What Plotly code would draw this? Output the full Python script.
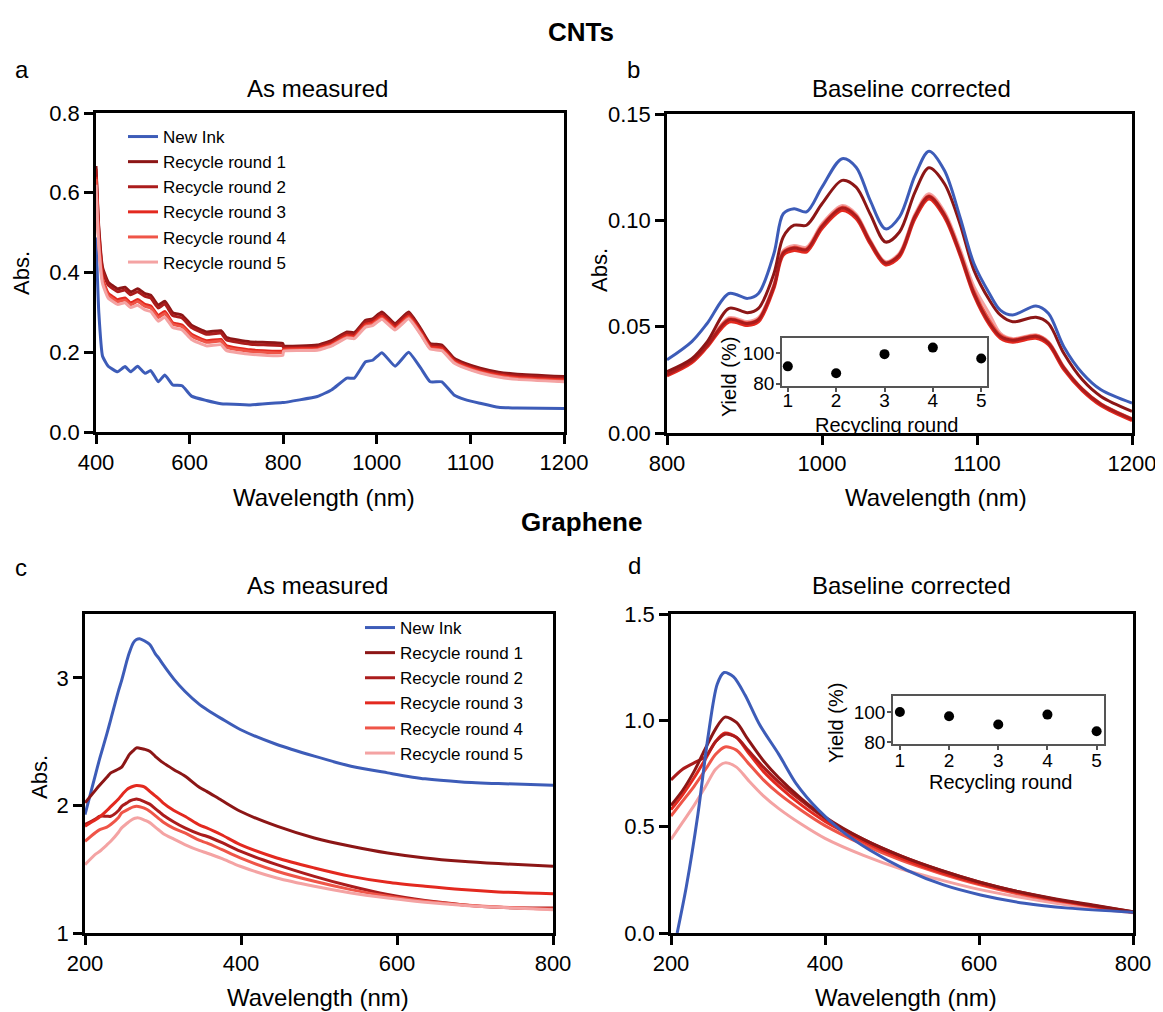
import plotly.graph_objects as go

# ---------------- data ----------------
series_names = ["New Ink", "Recycle round 1", "Recycle round 2",
                "Recycle round 3", "Recycle round 4", "Recycle round 5"]
series_colors = ["#3d5cb8", "#8c1616", "#ab1c1c", "#e3291f", "#ef5548", "#f4a3a3"]

# Panel a: CNTs as measured (wavelength, nm)
wl_a = [400, 406, 414, 426, 446, 462, 474, 489, 505, 517, 533, 547, 564, 584, 604, 636, 667,
        679, 730, 799, 801, 873, 904, 936, 952, 976, 991, 1011, 1039, 1068, 1094, 1114, 1139,
        1165, 1189, 1221, 1260, 1300, 1400]
a_new = [0.488, 0.300, 0.190, 0.165, 0.151, 0.164, 0.151, 0.165, 0.147, 0.154, 0.126, 0.143,
         0.118, 0.116, 0.090, 0.079, 0.071, 0.070, 0.068, 0.074, 0.074, 0.089, 0.106, 0.135,
         0.135, 0.176, 0.180, 0.199, 0.165, 0.200, 0.160, 0.126, 0.126, 0.093, 0.081, 0.072,
         0.062, 0.060, 0.059]
a_r1 = [0.667, 0.513, 0.413, 0.376, 0.359, 0.363, 0.351, 0.359, 0.347, 0.343, 0.318, 0.328,
        0.299, 0.293, 0.268, 0.251, 0.254, 0.237, 0.226, 0.222, 0.216, 0.218, 0.230, 0.251,
        0.249, 0.280, 0.284, 0.301, 0.272, 0.301, 0.259, 0.222, 0.218, 0.185, 0.172, 0.160,
        0.150, 0.145, 0.139]
a_r2 = [0.660, 0.505, 0.406, 0.369, 0.352, 0.356, 0.344, 0.352, 0.340, 0.336, 0.311, 0.321,
        0.292, 0.286, 0.262, 0.245, 0.248, 0.231, 0.220, 0.216, 0.212, 0.214, 0.226, 0.247,
        0.245, 0.276, 0.280, 0.296, 0.268, 0.297, 0.255, 0.218, 0.214, 0.181, 0.168, 0.156,
        0.146, 0.141, 0.135]
a_r3 = [0.640, 0.480, 0.385, 0.348, 0.332, 0.336, 0.324, 0.332, 0.320, 0.316, 0.292, 0.302,
        0.274, 0.268, 0.245, 0.229, 0.232, 0.216, 0.206, 0.203, 0.208, 0.210, 0.221, 0.242,
        0.240, 0.270, 0.274, 0.290, 0.262, 0.291, 0.250, 0.214, 0.210, 0.178, 0.165, 0.153,
        0.143, 0.137, 0.131]
a_r4 = [0.635, 0.475, 0.380, 0.343, 0.327, 0.331, 0.319, 0.327, 0.315, 0.311, 0.287, 0.297,
        0.270, 0.264, 0.241, 0.225, 0.228, 0.212, 0.202, 0.199, 0.205, 0.207, 0.218, 0.238,
        0.236, 0.266, 0.270, 0.286, 0.258, 0.287, 0.246, 0.210, 0.206, 0.175, 0.162, 0.150,
        0.140, 0.134, 0.128]
a_r5 = [0.620, 0.465, 0.372, 0.336, 0.320, 0.324, 0.312, 0.318, 0.306, 0.302, 0.278, 0.288,
        0.262, 0.256, 0.232, 0.216, 0.219, 0.204, 0.195, 0.192, 0.203, 0.205, 0.216, 0.236,
        0.234, 0.263, 0.267, 0.283, 0.256, 0.284, 0.244, 0.208, 0.204, 0.173, 0.160, 0.148,
        0.138, 0.132, 0.126]
a_tickvals = [400, 600, 800, 1000, 1200, 1400]
a_ticktext = ["400", "600", "800", "1000", "1100", "1200"]

# Panel b: CNTs baseline corrected
wl_b = [900, 916, 926, 940, 952, 959, 969, 975, 982, 990, 1000, 1013, 1022, 1031, 1041, 1050,
        1060, 1069, 1079, 1089, 1098, 1108, 1115, 1123, 1138, 1146, 1156, 1168, 1180, 1200]
b_new = [0.0344, 0.0430, 0.0516, 0.0656, 0.0633, 0.0656, 0.0844, 0.1031, 0.1055, 0.1040,
         0.1156, 0.1290, 0.1250, 0.1095, 0.0960, 0.1016, 0.1210, 0.1325, 0.1234, 0.1016,
         0.0797, 0.0656, 0.0578, 0.0555, 0.0597, 0.0563, 0.0406, 0.0281, 0.0203, 0.0141]
b_r1 = [0.0289, 0.0350, 0.0430, 0.0586, 0.0566, 0.0586, 0.0750, 0.0922, 0.0977, 0.0977,
        0.1078, 0.1188, 0.1156, 0.1031, 0.0898, 0.0945, 0.1133, 0.1247, 0.1172, 0.0984,
        0.0766, 0.0625, 0.0555, 0.0523, 0.0544, 0.0516, 0.0375, 0.0250, 0.0172, 0.0102]
b_r2 = [0.0275, 0.0338, 0.0412, 0.0533, 0.0515, 0.0533, 0.0690, 0.0847, 0.0870, 0.0862,
        0.0972, 0.1058, 0.1019, 0.0900, 0.0799, 0.0838, 0.1019, 0.1112, 0.1025, 0.0846,
        0.0658, 0.0518, 0.0455, 0.0436, 0.0455, 0.0424, 0.0307, 0.0205, 0.0135, 0.0065]
b_r3 = [0.0268, 0.0330, 0.0404, 0.0522, 0.0505, 0.0522, 0.0680, 0.0836, 0.0858, 0.0851,
        0.0960, 0.1046, 0.1008, 0.0890, 0.0790, 0.0828, 0.1007, 0.1100, 0.1014, 0.0836,
        0.0648, 0.0508, 0.0446, 0.0427, 0.0445, 0.0415, 0.0298, 0.0198, 0.0128, 0.0058]
b_r4 = [0.0278, 0.0340, 0.0415, 0.0536, 0.0518, 0.0536, 0.0694, 0.0851, 0.0874, 0.0866,
        0.0976, 0.1062, 0.1022, 0.0903, 0.0801, 0.0841, 0.1022, 0.1116, 0.1030, 0.0852,
        0.0668, 0.0530, 0.0462, 0.0440, 0.0458, 0.0427, 0.0309, 0.0206, 0.0136, 0.0066]
b_r5 = [0.0282, 0.0344, 0.0420, 0.0542, 0.0524, 0.0542, 0.0700, 0.0858, 0.0882, 0.0874,
        0.0984, 0.1070, 0.1030, 0.0908, 0.0806, 0.0847, 0.1030, 0.1125, 0.1040, 0.0866,
        0.0690, 0.0560, 0.0470, 0.0444, 0.0462, 0.0430, 0.0312, 0.0208, 0.0138, 0.0068]
b_tickvals = [900, 1000, 1100, 1200]
b_ticktext = ["800", "1000", "1100", "1200"]

# Panel c: Graphene as measured
wl_c = [200, 214, 219, 228, 233, 243, 247, 254, 257, 262, 266, 270, 276, 283, 290, 295, 300,
        314, 328, 347, 356, 375, 399, 446, 494, 541, 588, 636, 683, 730, 800]
c_new = [1.928, 2.255, 2.37, 2.56, 2.673, 2.90, 2.98, 3.14, 3.20, 3.275, 3.30, 3.306, 3.29,
         3.261, 3.19, 3.15, 3.105, 2.99, 2.895, 2.79, 2.752, 2.68, 2.595, 2.477, 2.386, 2.307,
         2.255, 2.208, 2.184, 2.171, 2.158]
c_r1 = [2.020, 2.124, 2.16, 2.22, 2.255, 2.285, 2.30, 2.37, 2.40, 2.43, 2.451, 2.448, 2.440,
        2.425, 2.385, 2.359, 2.335, 2.28, 2.23, 2.14, 2.11, 2.04, 1.954, 1.837, 1.745, 1.680,
        1.627, 1.588, 1.562, 1.544, 1.523]
c_r2 = [1.850, 1.895, 1.915, 1.915, 1.915, 1.960, 1.993, 2.020, 2.033, 2.045, 2.051, 2.045,
        2.030, 2.010, 1.975, 1.950, 1.925, 1.870, 1.824, 1.775, 1.758, 1.710, 1.641, 1.536,
        1.444, 1.366, 1.301, 1.254, 1.222, 1.201, 1.196]
c_r3 = [1.837, 1.889, 1.91, 1.960, 1.990, 2.050, 2.080, 2.125, 2.137, 2.150, 2.156, 2.154,
        2.145, 2.110, 2.075, 2.050, 2.020, 1.960, 1.915, 1.845, 1.824, 1.770, 1.693, 1.588,
        1.510, 1.444, 1.397, 1.366, 1.340, 1.322, 1.308]
c_r4 = [1.719, 1.790, 1.810, 1.830, 1.850, 1.905, 1.941, 1.965, 1.975, 1.988, 1.993, 1.990,
        1.978, 1.955, 1.920, 1.895, 1.870, 1.820, 1.784, 1.725, 1.706, 1.655, 1.588, 1.484,
        1.405, 1.340, 1.288, 1.248, 1.222, 1.204, 1.188]
c_r5 = [1.536, 1.620, 1.641, 1.690, 1.719, 1.790, 1.824, 1.860, 1.875, 1.895, 1.902, 1.900,
        1.885, 1.865, 1.830, 1.805, 1.780, 1.735, 1.693, 1.645, 1.627, 1.585, 1.523, 1.431,
        1.366, 1.314, 1.275, 1.241, 1.217, 1.201, 1.183]
c_tickvals = [200, 400, 600, 800]

# Panel d: Graphene baseline corrected
wl_d = [200, 215, 230, 245, 258, 270, 285, 300, 320, 340, 370, 400, 450, 500, 550, 600, 650,
        700, 750, 800]
d_r1 = [0.600, 0.670, 0.760, 0.870, 0.960, 1.015, 0.990, 0.910, 0.810, 0.730, 0.630, 0.545,
        0.440, 0.360, 0.295, 0.240, 0.195, 0.160, 0.130, 0.100]
d_r2 = [0.720, 0.770, 0.800, 0.830, 0.900, 0.935, 0.920, 0.860, 0.780, 0.710, 0.620, 0.540,
        0.440, 0.360, 0.295, 0.240, 0.195, 0.158, 0.128, 0.100]
d_r3 = [0.580, 0.650, 0.730, 0.820, 0.900, 0.940, 0.920, 0.850, 0.760, 0.690, 0.600, 0.525,
        0.430, 0.350, 0.285, 0.232, 0.190, 0.155, 0.125, 0.098]
d_r4 = [0.550, 0.620, 0.690, 0.770, 0.840, 0.875, 0.860, 0.800, 0.720, 0.655, 0.575, 0.505,
        0.415, 0.340, 0.280, 0.228, 0.185, 0.152, 0.123, 0.097]
d_r5 = [0.440, 0.520, 0.600, 0.690, 0.770, 0.800, 0.780, 0.720, 0.645, 0.585, 0.510, 0.445,
        0.365, 0.300, 0.250, 0.205, 0.170, 0.140, 0.115, 0.095]
wl_d_new = [208, 220, 235, 248, 260, 269, 281, 296, 315, 340, 363, 391, 420, 458, 506, 554,
            602, 659, 716, 800]
d_new = [0.000, 0.220, 0.560, 0.920, 1.170, 1.225, 1.205, 1.120, 0.980, 0.840, 0.700, 0.580,
         0.485, 0.390, 0.296, 0.226, 0.179, 0.140, 0.117, 0.098]

# Insets: yield vs recycling round
rounds = [1, 2, 3, 4, 5]
yield_cnt = [91.4, 86.9, 99.4, 103.7, 96.6]
yield_gr = [100.0, 97.2, 91.8, 98.3, 87.4]

# ---------------- figure ----------------
W, H = 1163, 1012
OFF = 8  # page body margin: paper origin sits at (8, 8) in the window
FONT = "Liberation Sans, Arial, Helvetica, sans-serif"


def fx(p):
    return (p - OFF) / W


def fy(p):
    return 1 - (p - OFF) / H


fig = go.Figure()

a_data = [a_new, a_r1, a_r2, a_r3, a_r4, a_r5]
b_data = [b_new, b_r1, b_r2, b_r3, b_r4, b_r5]
c_data = [c_new, c_r1, c_r2, c_r3, c_r4, c_r5]
d_data = [d_new, d_r1, d_r2, d_r3, d_r4, d_r5]

draw_order = [5, 4, 3, 2, 1, 0]
for i in range(6):
    fig.add_trace(go.Scatter(x=wl_a, y=a_data[i], mode="lines", name=series_names[i],
                             line=dict(color=series_colors[i], width=3, shape="spline",
                                       smoothing=0.4),
                             xaxis="x", yaxis="y", legend="legend", showlegend=True))
for i in draw_order:
    fig.add_trace(go.Scatter(x=wl_b, y=b_data[i], mode="lines", name=series_names[i],
                             line=dict(color=series_colors[i], width=3, shape="spline",
                                       smoothing=0.9),
                             xaxis="x2", yaxis="y2", showlegend=False))
for i in range(6):
    fig.add_trace(go.Scatter(x=wl_c, y=c_data[i], mode="lines", name=series_names[i],
                             line=dict(color=series_colors[i], width=3, shape="spline",
                                       smoothing=0.8),
                             xaxis="x3", yaxis="y3", legend="legend2", showlegend=True))
for i in draw_order:
    xs = wl_d_new if i == 0 else wl_d
    fig.add_trace(go.Scatter(x=xs, y=d_data[i], mode="lines", name=series_names[i],
                             line=dict(color=series_colors[i], width=3, shape="spline",
                                       smoothing=0.8),
                             xaxis="x4", yaxis="y4", showlegend=False))

fig.add_trace(go.Scatter(x=rounds, y=yield_cnt, mode="markers",
                         marker=dict(color="black", size=10), xaxis="x5", yaxis="y5",
                         showlegend=False))
fig.add_trace(go.Scatter(x=rounds, y=yield_gr, mode="markers",
                         marker=dict(color="black", size=10), xaxis="x6", yaxis="y6",
                         showlegend=False))

main_axis = dict(showline=True, linewidth=2.5, linecolor="black", mirror=True,
                 ticks="outside", ticklen=9, tickwidth=2.5, tickcolor="black",
                 showgrid=False, zeroline=False, automargin=False,
                 tickfont=dict(family=FONT, size=22, color="black"))
inside_axis = dict(showline=False, ticks="inside", ticklen=9, tickwidth=2.5,
                   tickcolor="black", showticklabels=False, showgrid=False, zeroline=False,
                   automargin=False)
inset_axis = dict(showline=True, linewidth=1.5, linecolor="#555555", mirror=True,
                  ticks="outside", ticklen=4, tickwidth=1.5, tickcolor="#555555",
                  showgrid=False, zeroline=False, automargin=False,
                  tickfont=dict(family=FONT, size=19, color="black"))

# panel boxes in window pixels: (left, right, top, bottom)
box_a = (96, 564, 113, 432)
box_b = (667, 1132, 114, 433)
box_c = (85, 553, 614, 933)
box_d = (671, 1133, 614, 933)
box_ib = (782, 987, 338, 386)
box_id = (893, 1104, 696, 744)


def xdom(b):
    return [fx(b[0]), fx(b[1])]


def ydom(b):
    return [fy(b[3]), fy(b[2])]


layout = dict(
    width=W, height=H, margin=dict(l=0, r=0, t=0, b=0, pad=0, autoexpand=False),
    paper_bgcolor="white", plot_bgcolor="white",
    font=dict(family=FONT, color="black"),
    xaxis=dict(main_axis, domain=xdom(box_a), anchor="y", range=[400, 1400],
               tickvals=a_tickvals, ticktext=a_ticktext),
    yaxis=dict(main_axis, domain=ydom(box_a), anchor="x", range=[0, 0.8],
               tickvals=[0, 0.2, 0.4, 0.6, 0.8], tickformat=".1f"),
    xaxis2=dict(main_axis, domain=xdom(box_b), anchor="y2", range=[900, 1200],
                tickvals=b_tickvals, ticktext=b_ticktext),
    yaxis2=dict(main_axis, domain=ydom(box_b), anchor="x2", range=[0, 0.15],
                tickvals=[0, 0.05, 0.10, 0.15], tickformat=".2f"),
    xaxis3=dict(main_axis, domain=xdom(box_c), anchor="y3", range=[200, 800],
                tickvals=c_tickvals),
    yaxis3=dict(main_axis, domain=ydom(box_c), anchor="x3", range=[1, 3.5],
                tickvals=[1, 2, 3]),
    xaxis4=dict(main_axis, domain=xdom(box_d), anchor="y4", range=[200, 800],
                tickvals=c_tickvals),
    yaxis4=dict(main_axis, domain=ydom(box_d), anchor="x4", range=[0, 1.5],
                tickvals=[0, 0.5, 1.0, 1.5], tickformat=".1f"),
    xaxis5=dict(inset_axis, domain=xdom(box_ib), anchor="y5", range=[0.88, 5.12],
                tickvals=rounds, ticklabelstandoff=-8),
    yaxis5=dict(inset_axis, domain=ydom(box_ib), anchor="x5", range=[78.5, 110],
                tickvals=[80, 100], ticklabelstandoff=-2),
    xaxis6=dict(inset_axis, domain=xdom(box_id), anchor="y6", range=[0.86, 5.15],
                tickvals=rounds, ticklabelstandoff=-6),
    yaxis6=dict(inset_axis, domain=ydom(box_id), anchor="x6", range=[79, 110.5],
                tickvals=[80, 100], ticklabelstandoff=-2),
    # inward ticks on top / right edges
    xaxis7=dict(inside_axis, overlaying="x", anchor="y", side="top", range=[400, 1400],
                tickvals=a_tickvals),
    yaxis7=dict(inside_axis, overlaying="y", anchor="x", side="right", range=[0, 0.8],
                tickvals=[0, 0.2, 0.4, 0.6, 0.8]),
    xaxis8=dict(inside_axis, overlaying="x2", anchor="y2", side="top", range=[900, 1200],
                tickvals=b_tickvals),
    yaxis8=dict(inside_axis, overlaying="y2", anchor="x2", side="right", range=[0, 0.15],
                tickvals=[0, 0.05, 0.10, 0.15]),
    xaxis9=dict(inside_axis, overlaying="x3", anchor="y3", side="top", range=[200, 800],
                tickvals=c_tickvals),
    yaxis9=dict(inside_axis, overlaying="y3", anchor="x3", side="right", range=[1, 3.5],
                tickvals=[1, 2, 3]),
    xaxis10=dict(inside_axis, overlaying="x4", anchor="y4", side="top", range=[200, 800],
                 tickvals=c_tickvals),
    yaxis10=dict(inside_axis, overlaying="y4", anchor="x4", side="right", range=[0, 1.5],
                 tickvals=[0, 0.5, 1.0, 1.5]),
    legend=dict(x=fx(123), y=fy(119), xanchor="left", yanchor="top",
                bgcolor="rgba(0,0,0,0)", font=dict(family=FONT, size=17),
                tracegroupgap=0),
    legend2=dict(x=fx(360), y=fy(610), xanchor="left", yanchor="top",
                 bgcolor="rgba(0,0,0,0)", font=dict(family=FONT, size=17),
                 tracegroupgap=0),
)
fig.update_layout(layout)


def ann(text, x, y, size, bold=False, angle=0):
    if bold:
        text = "<b>%s</b>" % text
    fig.add_annotation(text=text, x=fx(x), y=fy(y), xref="paper", yref="paper",
                       xanchor="center", yanchor="middle", showarrow=False, textangle=angle,
                       font=dict(family=FONT, size=size, color="black"))


ann("CNTs", 581, 32, 26, bold=True)
ann("Graphene", 581, 522, 26, bold=True)
ann("a", 22, 70, 24)
ann("b", 633, 70, 24)
ann("c", 21, 567, 24)
ann("d", 634, 565, 24)
ann("As measured", 317, 89, 24)
ann("Baseline corrected", 911, 89, 24)
ann("As measured", 317, 585, 24)
ann("Baseline corrected", 911, 585, 24)
ann("Wavelength (nm)", 324, 497, 24)
ann("Wavelength (nm)", 936, 497, 24)
ann("Wavelength (nm)", 318, 997, 24)
ann("Wavelength (nm)", 906, 997, 24)
ann("Abs.", 22, 273, 22, angle=-90)
ann("Abs.", 599, 270, 22, angle=-90)
ann("Abs.", 39, 777, 22, angle=-90)
ann("Yield (%)", 729, 377, 20, angle=-90)
ann("Recycling round", 886, 425, 20)
ann("Yield (%)", 836, 723, 20, angle=-90)
ann("Recycling round", 1000, 782, 20)

fig.write_html("out.html")
